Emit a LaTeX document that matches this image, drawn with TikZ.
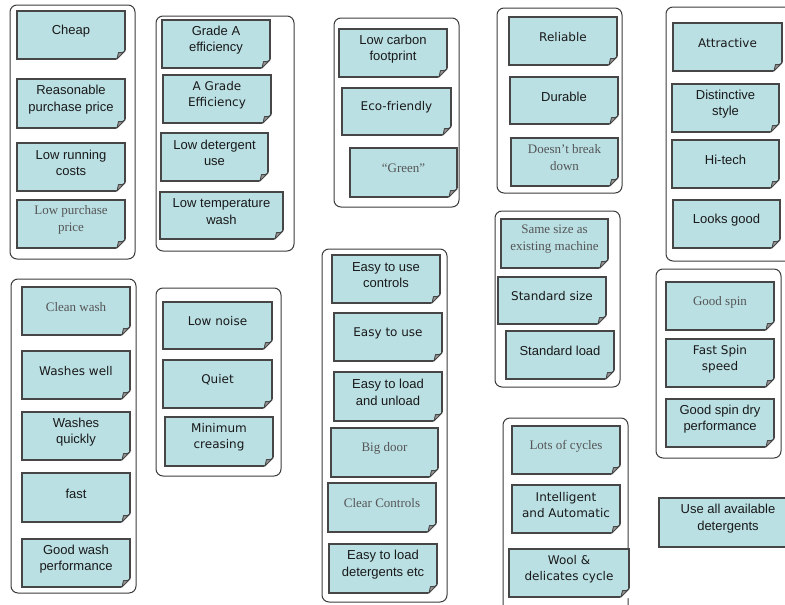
\documentclass[tikz,border=0pt]{standalone}
\usepackage{fontspec}
\setmainfont{Liberation Sans}
\newfontfamily\comicface{DejaVu Sans}
\newfontfamily\fancyface{Liberation Serif}
\usetikzlibrary{calc}

\definecolor{notefill}{RGB}{186,224,228}
\definecolor{noteline}{RGB}{70,70,70}
\definecolor{boxline}{RGB}{60,60,60}
\definecolor{foldgray}{RGB}{150,150,150}
\definecolor{inktext}{RGB}{25,25,25}
\definecolor{greyink}{RGB}{85,85,85}

\tikzset{
  groupbox/.style={draw=boxline, line width=1pt, rounded corners=7pt, fill=white},
  notebox/.style={draw=noteline, line width=1.1pt, fill=notefill, inner sep=0pt, outer sep=0pt},
  foldline/.style={draw=noteline, line width=0.9pt, fill=foldgray, line join=round},
  arialtxt/.style={font=\fontsize{13}{16.5}\selectfont, align=center, text=inktext, inner sep=0pt},
  comictxt/.style={font=\comicface\fontsize{12}{16}\selectfont, align=center, text=inktext, inner sep=0pt},
  fancytxt/.style={font=\fancyface\fontsize{13}{17}\selectfont, align=center, text=greyink, inner sep=0pt},
}

% sticky note: name, x1, y1, x2, y2, text style, text
\newcommand\stickynote[7]{%
  \node[notebox, minimum width={#4-#2}, minimum height={#5-#3}] (#1) at ({(#2+#4)/2},{(#3+#5)/2}) {};
  \fill[white] ($(#1.south east)+(1,-9)$) -- ($(#1.south east)+(1,1)$) -- ($(#1.south east)+(-9,1)$) -- cycle;
  \draw[foldline] ($(#1.south east)+(0,-8)$) -- ($(#1.south east)+(-8,0)$)
     .. controls ($(#1.south east)+(-7,-3)$) .. ($(#1.south east)+(-6.5,-6.5)$)
     .. controls ($(#1.south east)+(-3,-6)$) .. ($(#1.south east)+(0,-8)$) -- cycle;
  \node[#6] (#1-label) at ($(#1.center)+(0,-4)$) {#7};
}

\begin{document}
\begin{tikzpicture}[x=1pt, y=-1pt]
\useasboundingbox (0,0) rectangle (785,605);
\clip (0,0) rectangle (785,605);

% cost
\node[groupbox, minimum width=125pt, minimum height=254pt] (g1) at (72.5,132) {};
\stickynote{n1}{17}{11}{125}{59}{arialtxt}{Cheap}
\stickynote{n2}{17}{79}{125}{128}{arialtxt}{Reasonable\\purchase price}
\stickynote{n3}{17}{143}{125}{191}{arialtxt}{Low running\\costs}
\stickynote{n4}{17}{200}{125}{248}{fancytxt}{Low purchase\\price}

% efficiency
\node[groupbox, minimum width=138pt, minimum height=235pt] (g2) at (225,133.5) {};
\stickynote{n5}{162}{20}{270}{68}{arialtxt}{Grade A\\efficiency}
\stickynote{n6}{163}{75}{271}{123}{comictxt}{A Grade\\Efficiency}
\stickynote{n7}{161}{133}{268}{181}{arialtxt}{Low detergent\\use}
\stickynote{n8}{160}{192}{283}{239}{arialtxt}{Low temperature\\wash}

% environment
\node[groupbox, minimum width=125pt, minimum height=189pt] (g3) at (396.5,112.5) {};
\stickynote{n9}{339}{29}{447}{77}{arialtxt}{Low carbon\\footprint}
\stickynote{n10}{342}{88}{451}{135}{comictxt}{Eco-friendly}
\stickynote{n11}{350}{148}{457}{197}{fancytxt}{“Green”}

% reliability
\node[groupbox, minimum width=125pt, minimum height=185pt] (g4) at (559.5,100.5) {};
\stickynote{n12}{509}{17}{617}{65}{comictxt}{Reliable}
\stickynote{n13}{510}{77}{618}{124}{arialtxt}{Durable}
\stickynote{n14}{511}{138}{618}{186}{fancytxt}{Doesn’t break\\down}

% looks
\node[groupbox, minimum width=129pt, minimum height=254pt] (g6) at (730.5,134) {};
\stickynote{n15}{673}{23}{782}{71}{comictxt}{Attractive}
\stickynote{n16}{672}{84}{779}{132}{arialtxt}{Distinctive\\style}
\stickynote{n17}{672}{140}{779}{188}{arialtxt}{Hi-tech}
\stickynote{n18}{673}{200}{780}{248}{arialtxt}{Looks good}

% washing
\node[groupbox, minimum width=125pt, minimum height=314pt] (g7) at (73.5,436) {};
\stickynote{n19}{22}{287}{130}{335}{fancytxt}{Clean wash}
\stickynote{n20}{22}{351}{130}{399}{comictxt}{Washes well}
\stickynote{n21}{22}{412}{130}{460}{arialtxt}{Washes\\quickly}
\stickynote{n22}{22}{473}{130}{522}{arialtxt}{fast}
\stickynote{n23}{22}{539}{130}{587}{arialtxt}{Good wash\\performance}

% noise
\node[groupbox, minimum width=125pt, minimum height=188pt] (g8) at (218.5,382) {};
\stickynote{n24}{163}{302}{272}{349}{comictxt}{Low noise}
\stickynote{n25}{163}{360}{272}{408}{comictxt}{Quiet}
\stickynote{n26}{165}{417}{273}{466}{comictxt}{Minimum\\creasing}

% ease of use
\node[groupbox, minimum width=125pt, minimum height=353pt] (g9) at (384.5,425.5) {};
\stickynote{n27}{332}{255}{440}{303}{arialtxt}{Easy to use\\controls}
\stickynote{n28}{334}{313}{442}{361}{comictxt}{Easy to use}
\stickynote{n29}{334}{372}{442}{421}{arialtxt}{Easy to load\\and unload}
\stickynote{n30}{331}{428}{438}{477}{fancytxt}{Big door}
\stickynote{n31}{328}{483}{436}{532}{fancytxt}{Clear Controls}
\stickynote{n32}{329}{544}{437}{593}{arialtxt}{Easy to load\\detergents etc}

% size
\node[groupbox, minimum width=125pt, minimum height=176pt] (g5) at (557.5,299) {};
\stickynote{n33}{501}{219}{608}{268}{fancytxt}{Same size as\\existing machine}
\stickynote{n34}{498}{277}{606}{324}{comictxt}{Standard size}
\stickynote{n35}{506}{331}{614}{379}{arialtxt}{Standard load}

% programmes
\node[groupbox, minimum width=125pt, minimum height=197pt] (g10) at (565.5,516.5) {};
\stickynote{n36}{512}{426}{620}{474}{fancytxt}{Lots of cycles}
\stickynote{n37}{512}{485}{620}{533}{comictxt}{Intelligent\\and Automatic}
\stickynote{n38}{509}{549}{629}{597}{comictxt}{Wool \&\\delicates cycle}

% spin
\node[groupbox, minimum width=125pt, minimum height=189pt] (g11) at (718.5,363.5) {};
\stickynote{n39}{666}{282}{774}{330}{fancytxt}{Good spin}
\stickynote{n40}{666}{339}{774}{387}{comictxt}{Fast Spin\\speed}
\stickynote{n41}{666}{399}{774}{447}{arialtxt}{Good spin dry\\performance}

% loose note
\stickynote{n42}{659}{498}{797}{547}{arialtxt}{Use all available\\detergents}
\end{tikzpicture}
\end{document}
